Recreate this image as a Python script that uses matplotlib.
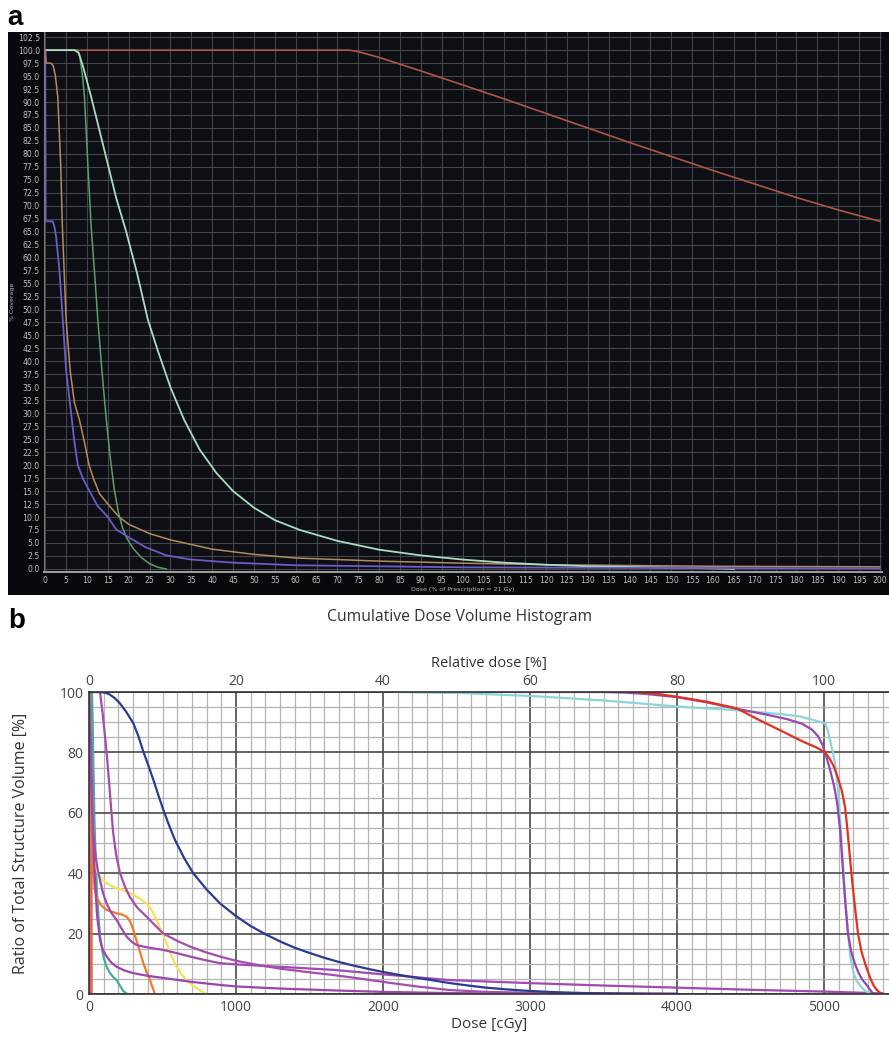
import matplotlib.pyplot as plt
from matplotlib.patches import Rectangle
import numpy as np

W, H = 889, 1037

# ---------------- panel a : dose (% of prescription) vs % coverage
red_a_x = [0, 73, 75, 80, 90, 100, 110, 120, 130, 140, 150, 160, 170, 180, 190, 200]
red_a_y = [100, 100, 99.7, 98.6, 96.0, 93.3, 90.6, 87.8, 85.0, 82.2, 79.5, 76.8, 74.2, 71.6, 69.2, 67.0]

lgreen_a_x = [0, 7, 8, 9, 11, 13, 15, 17, 19.4, 22, 24.6, 27, 30, 33.3, 37, 41, 45, 50, 55, 61,
              70, 80, 90, 100, 110, 120, 130, 145, 160, 165]
lgreen_a_y = [100, 100, 99.5, 97, 91, 84.5, 78, 71.5, 65, 57, 48, 42, 35, 28.7, 23, 18.5, 15, 11.8, 9.4, 7.5,
              5.4, 3.7, 2.6, 1.8, 1.2, 0.8, 0.5, 0.3, 0.1, 0]

dgreen_a_x = [0, 7.5, 8.2, 8.6, 9.0, 9.4, 10.2, 11, 12, 12.6, 13.6, 14.6, 15.5, 16.5, 17.5, 18.5, 19.5,
              21, 23, 25, 27, 29]
dgreen_a_y = [100, 100, 99.2, 97, 94.5, 91, 78, 66, 55, 48, 38, 29, 22, 15.5, 11, 8, 6,
              4, 2.2, 1, 0.3, 0]

orange_a_x = [0, 1.4, 1.9, 2.4, 3.0, 3.7, 4.1, 5.0, 6, 7, 8.2, 9.5, 10.5, 11.5, 13, 15, 17.7, 20, 25, 30,
              40, 50, 60, 80, 100, 120, 160, 200]
orange_a_y = [97.5, 97.5, 97, 95.2, 91, 78, 66, 48, 38, 32, 28.7, 24, 20, 17.5, 14.5, 12.5, 10, 8.6, 6.8, 5.6,
              3.8, 2.8, 2.1, 1.5, 1.1, 0.8, 0.5, 0.4]

blue_a_x = [0, 0.1, 1.8, 2.2, 2.6, 3.4, 4.2, 5.0, 6.2, 6.9, 7.8, 9.0, 10.6, 12.5, 15, 17, 19.8, 24, 29, 35,
            45, 60, 80, 100, 140, 200]
blue_a_y = [97.5, 67, 67, 66, 64, 57.6, 48, 38.3, 30, 25, 20, 17.5, 15, 12.2, 10, 7.6, 6.2, 4.2, 2.6, 1.8,
            1.2, 0.7, 0.5, 0.3, 0.2, 0.1]

pink_a_x = [0, 0.2]
pink_a_y = [100, 97.5]

a_yticks = np.arange(0, 103, 2.5)
a_xticks = np.arange(0, 201, 5)

# ---------------- panel b : dose (cGy) vs ratio of structure volume (%)
blue_b_x = [0, 75, 110, 140, 175, 211, 255, 302, 335, 370, 405, 438, 472, 506, 545, 585, 645, 709, 800,
            891, 1000, 1100, 1200, 1300, 1400, 1500, 1600, 1700, 1800, 1900, 2000, 2100, 2200, 2330,
            2456, 2580, 2700, 2850, 3000, 3150, 3300, 3450, 3600, 3800, 4000]
blue_b_y = [100, 100, 99.8, 99.2, 98, 96.2, 93.3, 89.6, 85.5, 80.2, 75.5, 70.9, 65.8, 60.9, 55.8, 51,
            45.2, 40, 34.6, 30, 25.8, 22.5, 19.8, 17.4, 15.3, 13.6, 12, 10.6, 9.4, 8.3, 7.3, 6.4, 5.6,
            4.6, 3.6, 2.8, 2.1, 1.5, 1.0, 0.65, 0.4, 0.25, 0.15, 0.05, 0]

purpleA_x = [0, 75, 95, 120, 140, 163, 185, 211, 245, 279, 330, 392, 450, 506, 600, 687, 790, 891, 1000,
             1150, 1300, 1480, 1660, 1830, 2000, 2230, 2456, 2700, 3000, 3500, 4000]
purpleA_y = [100, 100, 92, 80, 68, 54, 46, 40, 35.5, 32, 28.5, 25.6, 22.7, 20, 17.6, 15.7, 13.9, 12.4,
             11, 9.6, 8.4, 7.3, 6.3, 5.2, 4.0, 2.5, 1.3, 0.7, 0.4, 0.2, 0.1]

purpleB_x = [0, 5, 10, 15, 20, 25, 29, 40, 50, 62, 75, 95, 120, 150, 188, 220, 256, 290, 324, 380, 440,
             506, 600, 687, 790, 891, 1000, 1300, 1660, 2000, 2456, 3000, 3500, 4000, 4500, 5000, 5400]
purpleB_y = [100, 95, 88, 79, 70, 60, 54, 48, 44, 40.5, 37.7, 33.5, 30, 27, 24.5, 21.8, 19, 17.3, 16.2,
             15.6, 15.1, 14.6, 13.5, 12.4, 11.2, 10.2, 9.8, 9.0, 8.0, 6.5, 4.6, 3.6, 2.8, 2.1, 1.4,
             0.8, 0.2]

purpleC_x = [0, 8, 15, 25, 40, 55, 75, 95, 120, 150, 188, 240, 302, 400, 506, 700, 891, 1000, 1300,
             1660, 2000, 2456, 3000, 4000]
purpleC_y = [100, 85, 72, 55, 38, 26, 17.9, 14.5, 12.4, 10.5, 9, 7.8, 6.9, 6, 5.3, 4, 3, 2.5, 1.8,
             1.2, 0.7, 0.3, 0.1, 0]

teal_b_x = [0, 20, 25, 30, 37, 45, 55, 65, 75, 85, 100, 120, 143, 165, 188, 210, 233, 260]
teal_b_y = [100, 100, 90, 75, 58, 45, 33, 25, 19.5, 16, 12, 9, 6.9, 5.6, 4.6, 2.8, 1.0, 0]

yellow_b_x = [0, 8, 15, 22, 30, 35, 41, 55, 75, 110, 163, 220, 279, 340, 392, 430, 460, 495, 528, 560,
              596, 630, 664, 710, 755, 780, 800]
yellow_b_y = [100, 90, 78, 64, 53, 47, 43.4, 40.5, 38.8, 37, 35.5, 34.6, 33.4, 31.8, 30, 27.5, 24.5,
              20.5, 16.8, 12.8, 9, 6.5, 4.6, 2.6, 1.3, 0.5, 0]

orange_b_x = [0, 5, 10, 15, 20, 25, 29, 38, 52, 80, 120, 160, 188, 225, 256, 280, 302, 320, 336, 352,
              370, 392, 415, 432, 449]
orange_b_y = [100, 90, 78, 64, 53, 44, 40, 35, 32, 29.5, 27.8, 27.2, 26.7, 26.3, 25.6, 24, 21.2, 18.2,
              15.7, 13, 10.2, 7.2, 4.6, 2.2, 0]

redline_b_x = [15, 18]
redline_b_y = [100, 0]

magenta_b_x = [0, 5]
magenta_b_y = [100, 0]

cyan_b_x = [2100, 2300, 2500, 3000, 3500, 4000, 4400, 4723, 4837, 4952, 5007, 5025, 5041, 5060, 5075,
            5095, 5110, 5125, 5140, 5160, 5180, 5200, 5220, 5250, 5280, 5320]
cyan_b_y = [100, 99.8, 99.7, 98.7, 97.2, 95.2, 94, 92.6, 91.9, 90.4, 89.6, 87.5, 84, 80, 76.4,
            67.5, 58, 46, 35, 22, 12, 7, 4.5, 2.5, 1, 0]

ptv_purple_x = [2900, 3500, 3650, 3800, 4000, 4200, 4400, 4600, 4750, 4850, 4920, 4960, 4990, 5010,
                5040, 5070, 5090, 5110, 5130, 5145, 5163, 5185, 5210, 5235, 5260, 5290, 5310, 5335]
ptv_purple_y = [100, 100, 99.8, 99.3, 98.3, 96.6, 94.5, 92.6, 91, 89.5, 87.5, 85.3, 82.5, 79.5,
                74.5, 68.5, 63, 54, 40, 30, 20, 14, 10, 7, 4.8, 3, 1.6, 0]

ptv_red_x = [3725, 3850, 4000, 4200, 4406, 4560, 4723, 4860, 4950, 5007, 5040, 5070, 5095, 5120, 5143,
             5160, 5175, 5190, 5210, 5231, 5255, 5280, 5300, 5320, 5340, 5360, 5380, 5400]
ptv_red_y = [100, 99.5, 98.4, 96.8, 94.6, 90.7, 86.8, 83.5, 81.6, 80, 77.8, 75, 71.5, 67.5, 62,
             54, 46, 38, 29, 20, 14, 10, 7.2, 4.6, 2.6, 1.3, 0.5, 0]

b_xticks = [0, 1000, 2000, 3000, 4000, 5000]
b_yticks = [0, 20, 40, 60, 80, 100]
rel_ticks = [0, 20, 40, 60, 80, 100]

fig = plt.figure(figsize=(W / 100, H / 100), dpi=100)
fig.patch.set_facecolor('white')

# dark panel behind chart a
fig.patches.append(Rectangle((8 / W, 1 - 595 / H), 881 / W, 563 / H, transform=fig.transFigure,
                             facecolor='#08090c', edgecolor='none', zorder=-1))

ax1 = fig.add_axes([44 / W, 1 - 572 / H, 838 / W, 540 / H])
ax1.set_facecolor('#0d0f14')
ax1.set(xlim=[-0.3, 200.5], ylim=[-0.6, 103.5])
ax1.set_xticks(a_xticks)
ax1.set_xticklabels([str(int(v)) for v in a_xticks])
ax1.set_yticks(a_yticks)
ax1.set_yticklabels(['%.1f' % v for v in a_yticks])
ax1.tick_params(colors='#bdbdbd', labelsize=5.6, length=0, pad=3)
ax1.grid(True, color='#43454b', lw=0.8)
for s in ['top', 'right']:
    ax1.spines[s].set_visible(False)
ax1.spines['left'].set_color('#7a7a7a')
ax1.spines['bottom'].set_color('#a0a0a0')
ax1.spines['bottom'].set_linewidth(1.4)
ax1.set_ylabel('% Coverage', color='#b8b8b8', fontsize=4.5, labelpad=2)
ax1.set_xlabel('Dose (% of Prescription = 21 Gy)', color='#b8b8b8', fontsize=4.5, labelpad=1)

ax1.plot(red_a_x, red_a_y, color='#b0554a', lw=1.2)
ax1.plot(orange_a_x, orange_a_y, color='#b38c5c', lw=1.1)
ax1.plot(dgreen_a_x, dgreen_a_y, color='#5f9c6c', lw=1.1)
ax1.plot(lgreen_a_x, lgreen_a_y, color='#a9dcc2', lw=1.3)
ax1.plot(blue_a_x, blue_a_y, color='#6b5ccc', lw=1.3)
ax1.plot(pink_a_x, pink_a_y, color='#c0609a', lw=1.3)

fig.text(7 / W, 1 - 25 / H, 'a', fontsize=20, fontweight='bold', family='Liberation Sans', va='baseline')
fig.text(8 / W, 1 - 628 / H, 'b', fontsize=20, fontweight='bold', family='Liberation Sans', va='baseline')

# ---------------- chart b
fnt = 'Open Sans'
fig.text(460 / W, 1 - 617 / H, 'Cumulative Dose Volume Histogram', fontsize=11.3, family=fnt,
         color='#333333', ha='center', va='center')

ax2 = fig.add_axes([89 / W, 1 - 994 / H, 800 / W, 302 / H])
ax2.set(xlim=[0, 5442], ylim=[0, 100])
ax2.set_xticks(b_xticks)
ax2.set_yticks(b_yticks)
ax2.set_xticks(np.arange(0, 5442, 100), minor=True)
ax2.set_yticks(np.arange(0, 101, 5), minor=True)
ax2.grid(True, which='minor', color='#b4b4b4', lw=0.9)
ax2.grid(True, which='major', color='#4a4a4a', lw=1.2)
ax2.tick_params(which='both', length=0, labelsize=10, labelcolor='#444444', pad=4)
for lab in ax2.get_xticklabels() + ax2.get_yticklabels():
    lab.set_family(fnt)
for s in ['left', 'bottom', 'top']:
    ax2.spines[s].set_color('#333333')
    ax2.spines[s].set_linewidth(1.2)
ax2.spines['right'].set_visible(False)
ax2.set_xlabel('Dose [cGy]', fontsize=11, family=fnt, color='#333333', labelpad=2)
ax2.set_ylabel('Ratio of Total Structure Volume [%]', fontsize=11.5, family=fnt, color='#333333',
               labelpad=22)

top = ax2.secondary_xaxis('top', functions=(lambda d: d / 50.0, lambda r: r * 50.0))
top.set_xticks(rel_ticks)
top.tick_params(length=0, labelsize=10, labelcolor='#444444', pad=2)
for lab in top.get_xticklabels():
    lab.set_family(fnt)
top.spines['top'].set_visible(False)
top.set_xlabel('Relative dose [%]', fontsize=10.5, family=fnt, color='#333333', labelpad=5)

lw = 1.6
ax2.plot(magenta_b_x, magenta_b_y, color='#c8409a', lw=lw)
ax2.plot(redline_b_x, redline_b_y, color='#e8643a', lw=lw)
ax2.plot(teal_b_x, teal_b_y, color='#3fae9c', lw=lw)
ax2.plot(orange_b_x, orange_b_y, color='#ee7a2c', lw=lw)
ax2.plot(yellow_b_x, yellow_b_y, color='#f5e05a', lw=lw)
ax2.plot(purpleC_x, purpleC_y, color='#9c45ad', lw=lw)
ax2.plot(purpleB_x, purpleB_y, color='#a04ab2', lw=lw)
ax2.plot(purpleA_x, purpleA_y, color='#a64caf', lw=lw)
ax2.plot(blue_b_x, blue_b_y, color='#2c3a94', lw=lw)
ax2.plot(cyan_b_x, cyan_b_y, color='#8cd4d8', lw=lw)
ax2.plot(ptv_purple_x, ptv_purple_y, color='#9548b0', lw=lw)
ax2.plot(ptv_red_x, ptv_red_y, color='#e4301e', lw=lw)

fig.savefig('out.png', dpi=100)
